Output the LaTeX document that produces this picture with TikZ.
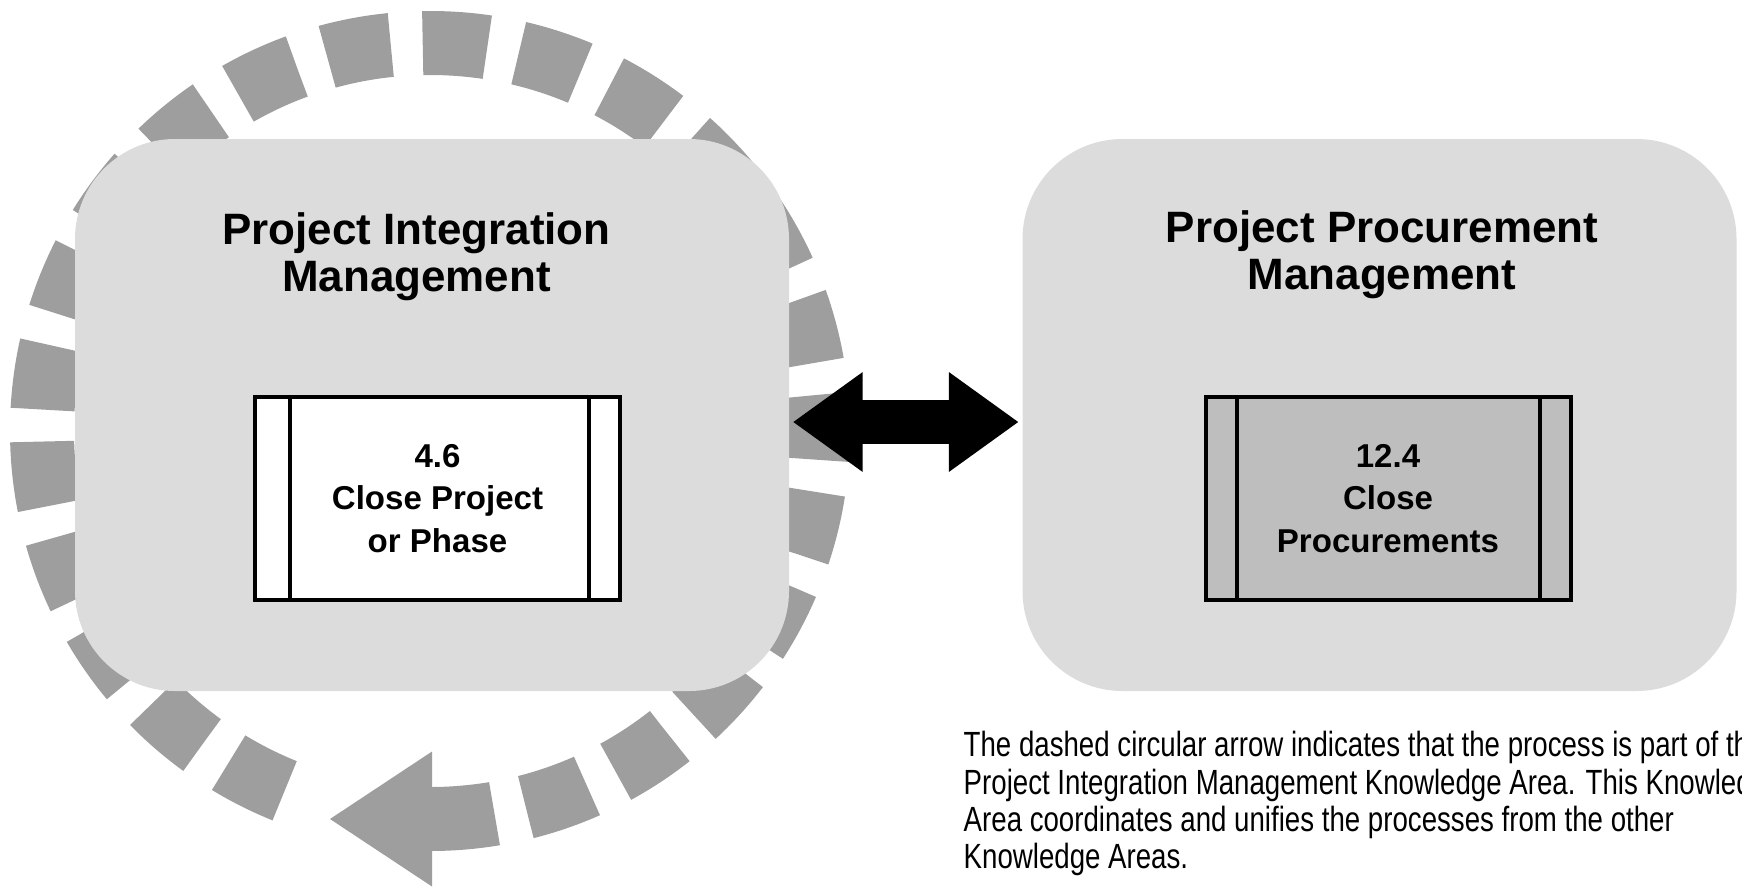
\documentclass[tikz,border=0pt]{standalone}
\usepackage{fontspec}
\setmainfont{Liberation Sans}
\newfontfamily\capfont[FakeStretch=0.79]{Liberation Sans}
\usetikzlibrary{arrows.meta}
\definecolor{areagray}{RGB}{220,220,220}
\definecolor{ringgray}{RGB}{158,158,158}
\definecolor{procgray}{RGB}{190,190,190}

\begin{document}
\begin{tikzpicture}[
    area/.style = {fill = areagray, rounded corners = 1cm, minimum width = 7.14cm, minimum height = 5.52cm},
    title/.style = {align = center, inner sep = 0pt, font = \fontsize{12.5}{13.4}\selectfont\bfseries},
    process/.style = {draw, line width = 0.04cm, minimum width = 3.65cm, minimum height = 2.03cm, align = center, font = \fontsize{9.4}{12.2}\selectfont\bfseries},
    ring/.style = {draw = ringgray, line width = 0.64cm, dash pattern = on 0.648cm off 0.32cm},
    twoway/.style = {line width = 0.44cm, {Triangle[length = 0.7cm, width = 0.95cm]}-{Triangle[length = 0.7cm, width = 0.95cm]}},
    caption/.style = {align = left, inner sep = 0pt, font = \capfont\fontsize{9.96}{10.53}\selectfont}
  ]
    \useasboundingbox (0, 0) rectangle (17.42, 8.88);
    \clip (0, 0) rectangle (17.42, 8.88);
    \draw[ring] (4.3, 0.69) arc[start angle = 270, end angle = 608, radius = 3.88];
    \fill[ringgray] (3.3, 0.69) -- (4.32, 1.365) -- (4.32, 0.015) -- cycle;
    \node[area] (Integration) at (4.32, 4.73) {};
    \node[area] (Procurement) at (13.795, 4.73) {};
    \node[title] (Integration Title) at (4.165, 6.31) {Project Integration\\Management};
    \node[title] (Procurement Title) at (13.82, 6.33) {Project Procurement\\Management};
    \node[process, fill = white] (Close Project) at (4.375, 3.895) {4.6\\Close Project\\or Phase};
    \node[process, fill = procgray] (Close Procurements) at (13.88, 3.895) {12.4\\Close\\Procurements};
    \draw[line width = 0.04cm] ([xshift = 0.37cm]Close Project.north west) -- ([xshift = 0.37cm]Close Project.south west);
    \draw[line width = 0.04cm] ([xshift = -0.33cm]Close Project.north east) -- ([xshift = -0.33cm]Close Project.south east);
    \draw[line width = 0.04cm] ([xshift = 0.33cm]Close Procurements.north west) -- ([xshift = 0.33cm]Close Procurements.south west);
    \draw[line width = 0.04cm] ([xshift = -0.33cm]Close Procurements.north east) -- ([xshift = -0.33cm]Close Procurements.south east);
    \draw[twoway] ([shift = {(0.03, -0.07)}]Integration.east) -- ([shift = {(-0.03, -0.07)}]Procurement.west);
    \node[caption, anchor = base west] (Note) at (9.63, 0.2) {The dashed circular arrow indicates that the process is part of the\\Project Integration Management Knowledge Area. This Knowledge\\Area coordinates and unifies the processes from the other\\Knowledge Areas.};
  \end{tikzpicture}
\end{document}
